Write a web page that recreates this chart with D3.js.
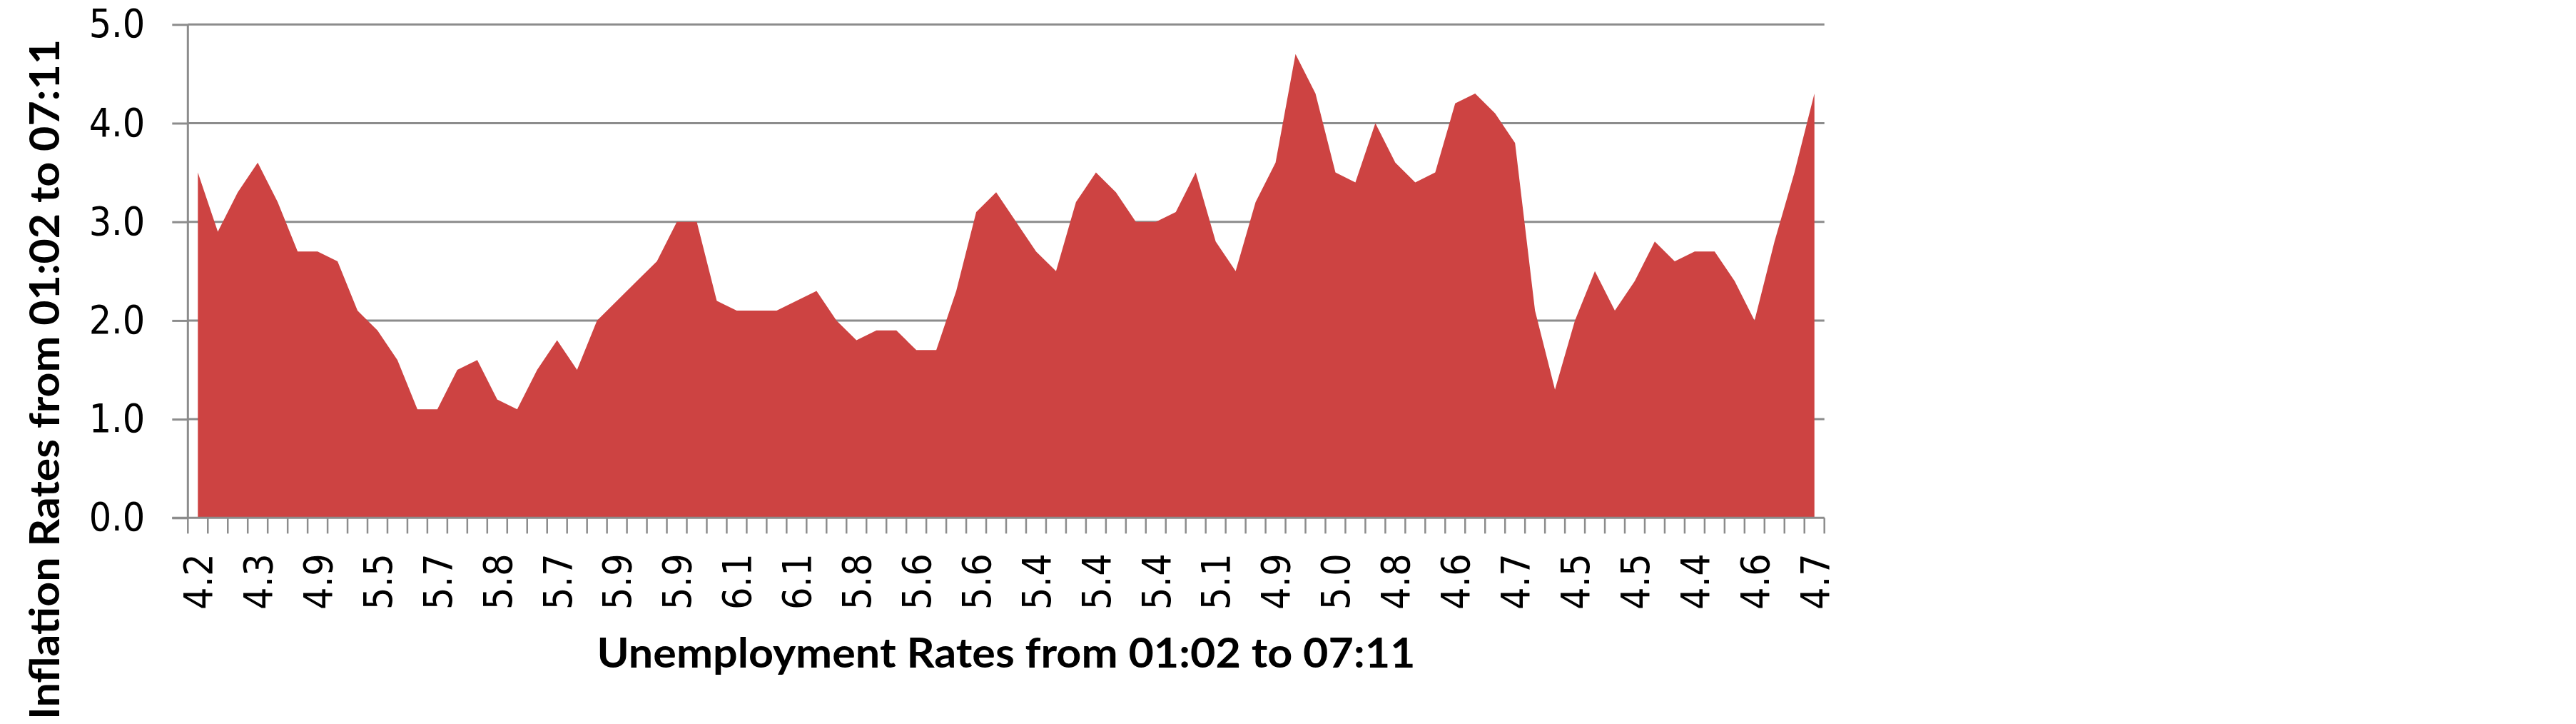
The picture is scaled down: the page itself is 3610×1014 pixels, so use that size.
<!DOCTYPE html>
<html>
<head>
<meta charset="utf-8">
<script src="https://cdn.jsdelivr.net/npm/d3@7"></script>
<style>
  html, body { margin: 0; padding: 0; background: #ffffff; }
  svg { display: block; }
</style>
</head>
<body>
<svg id="chart" width="3610" height="1014"></svg>
<script>
// Categories: unemployment rates, monthly, 2001:02 .. 2007:11 (every 3rd labelled)
const unemployment = [
  4.2, 4.3, 4.4, 4.3, 4.5, 4.6, 4.9, 5.0, 5.3, 5.5, 5.7,
  5.7, 5.7, 5.7, 5.9, 5.8, 5.8, 5.8, 5.7, 5.7, 5.7, 5.9, 6.0,
  5.8, 5.9, 5.9, 6.0, 6.1, 6.3, 6.2, 6.1, 6.1, 6.0, 5.8, 5.7,
  5.7, 5.6, 5.8, 5.6, 5.6, 5.6, 5.5, 5.4, 5.4, 5.5, 5.4, 5.4,
  5.3, 5.4, 5.2, 5.2, 5.1, 5.0, 5.0, 4.9, 5.0, 5.0, 5.0, 4.9,
  4.7, 4.8, 4.7, 4.7, 4.6, 4.6, 4.7, 4.7, 4.5, 4.4, 4.5, 4.4,
  4.6, 4.5, 4.4, 4.5, 4.4, 4.6, 4.7, 4.6, 4.7, 4.7, 4.7
];
// Series: inflation rates, same months
const inflation = [
  3.5, 2.9, 3.3, 3.6, 3.2, 2.7, 2.7, 2.6, 2.1, 1.9, 1.6,
  1.1, 1.1, 1.5, 1.6, 1.2, 1.1, 1.5, 1.8, 1.5, 2.0, 2.2, 2.4,
  2.6, 3.0, 3.0, 2.2, 2.1, 2.1, 2.1, 2.2, 2.3, 2.0, 1.8, 1.9,
  1.9, 1.7, 1.7, 2.3, 3.1, 3.3, 3.0, 2.7, 2.5, 3.2, 3.5, 3.3,
  3.0, 3.0, 3.1, 3.5, 2.8, 2.5, 3.2, 3.6, 4.7, 4.3, 3.5, 3.4,
  4.0, 3.6, 3.4, 3.5, 4.2, 4.3, 4.1, 3.8, 2.1, 1.3, 2.0, 2.5,
  2.1, 2.4, 2.8, 2.6, 2.7, 2.7, 2.4, 2.0, 2.8, 3.5, 4.3
];
const yTickValues = [0, 1, 2, 3, 4, 5];
const xLabelStep = 3;
const xTitle = "Unemployment Rates from 01:02 to 07:11";
const yTitle = "Inflation Rates from 01:02 to 07:11";

// ---- layout ----
const W = 3610, H = 1014;
const plot = { left: 263.3, right: 2556.7, top: 34.3, bottom: 725.3 };
const gridColor = "#8c8c8c";
const tickFont = "'DejaVu Sans Condensed', 'DejaVu Sans', sans-serif";
const titleFont = "Lato, 'Open Sans', sans-serif";

const svg = d3.select("#chart");
svg.append("rect").attr("width", W).attr("height", H).attr("fill", "#ffffff");

const idx = d3.range(inflation.length);
const x = d3.scaleBand().domain(idx).range([plot.left, plot.right]).padding(0);
const y = d3.scaleLinear().domain([0, 5]).range([plot.bottom, plot.top]);
const cx = i => x(i) + x.bandwidth() / 2;

// gridlines (behind area)
svg.append("g")
  .selectAll("line")
  .data(yTickValues.filter(v => v !== 0))
  .join("line")
  .attr("x1", plot.left).attr("x2", plot.right)
  .attr("y1", d => y(d)).attr("y2", d => y(d))
  .attr("stroke", gridColor).attr("stroke-width", 3);

// area
const area = d3.area()
  .x((d, i) => cx(i))
  .y0(y(0))
  .y1(d => y(d));
svg.append("path")
  .datum(inflation)
  .attr("d", area)
  .attr("fill", "#cd4342");

// y axis
const yAxis = d3.axisLeft(y)
  .tickValues(yTickValues)
  .tickSize(22)
  .tickPadding(38)
  .tickFormat(d3.format(".1f"));
const gy = svg.append("g")
  .attr("transform", `translate(${plot.left},0)`)
  .call(yAxis);
gy.select(".domain").attr("stroke", gridColor).attr("stroke-width", 3)
  .attr("d", `M0,${plot.top}V${plot.bottom}`);
gy.selectAll(".tick line").attr("stroke", gridColor).attr("stroke-width", 3);
gy.selectAll(".tick text")
  .attr("font-family", tickFont)
  .attr("font-size", 55)
  .attr("fill", "#000");

// x axis: line, boundary ticks, rotated labels
const gx = svg.append("g");
gx.append("line")
  .attr("x1", plot.left - 22).attr("x2", plot.right)
  .attr("y1", y(0)).attr("y2", y(0))
  .attr("stroke", gridColor).attr("stroke-width", 3);
const boundaries = idx.map(i => x(i)).concat([x(idx[idx.length - 1]) + x.bandwidth()]);
gx.selectAll("line.tk")
  .data(boundaries)
  .join("line")
  .attr("class", "tk")
  .attr("x1", d => d).attr("x2", d => d)
  .attr("y1", y(0)).attr("y2", y(0) + 22)
  .attr("stroke", gridColor).attr("stroke-width", 2.5);

const labelIdx = idx.filter(i => i % xLabelStep === 0);
gx.selectAll("text.xl")
  .data(labelIdx)
  .join("text")
  .attr("class", "xl")
  .attr("transform", i => `translate(${cx(i)},${y(0) + 50}) rotate(-90)`)
  .attr("text-anchor", "end")
  .attr("dy", "0.36em")
  .attr("font-family", tickFont)
  .attr("font-size", 55)
  .attr("fill", "#000")
  .text(i => unemployment[i].toFixed(1));

// axis titles
svg.append("text")
  .attr("x", (plot.left + plot.right) / 2)
  .attr("y", 935)
  .attr("text-anchor", "middle")
  .attr("font-family", titleFont)
  .attr("font-weight", "bold")
  .attr("font-size", 58)
  .attr("textLength", 1147)
  .attr("lengthAdjust", "spacingAndGlyphs")
  .attr("fill", "#000")
  .text(xTitle);

svg.append("text")
  .attr("transform", "translate(83,531.5) rotate(-90)")
  .attr("text-anchor", "middle")
  .attr("font-family", titleFont)
  .attr("font-weight", "bold")
  .attr("font-size", 58)
  .attr("textLength", 953)
  .attr("lengthAdjust", "spacingAndGlyphs")
  .attr("fill", "#000")
  .text(yTitle);
</script>
</body>
</html>
